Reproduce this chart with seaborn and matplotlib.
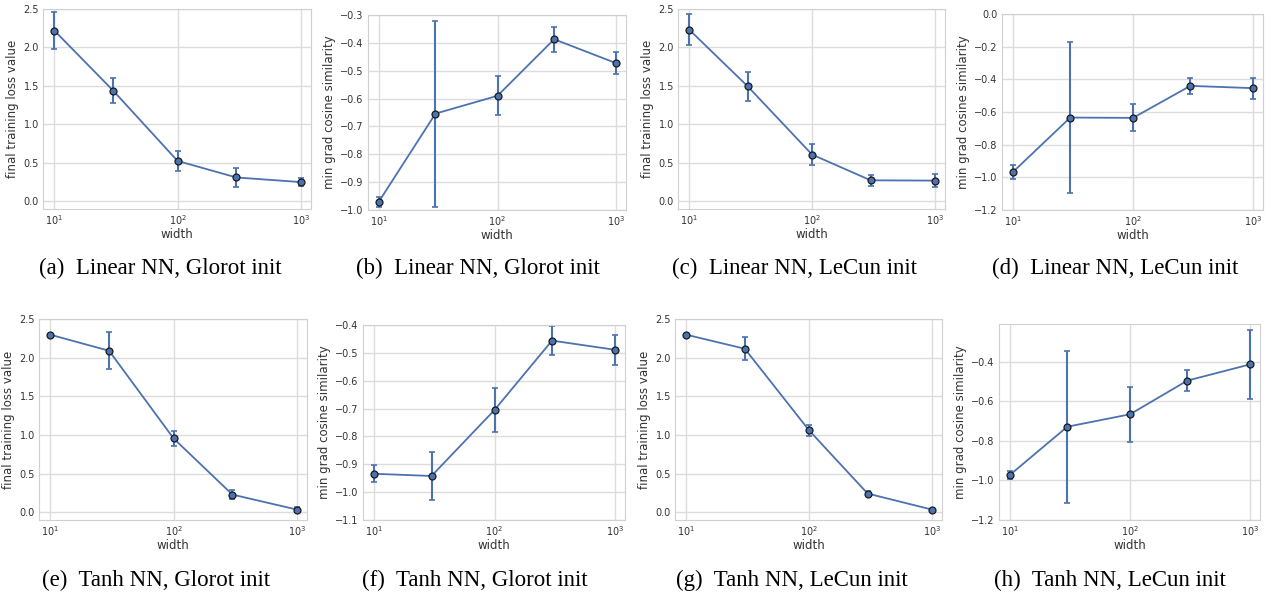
import numpy as np
import pandas as pd
import matplotlib
matplotlib.use("Agg")
import matplotlib.pyplot as plt
import matplotlib.ticker as ticker
import seaborn as sns

sns.set_style("whitegrid", {
    "axes.edgecolor": "#d0d0d0",
    "grid.color": "#dcdcdc",
    "axes.linewidth": 1.0,
    "text.color": ".2",
    "xtick.color": ".2",
    "ytick.color": ".2",
    "axes.labelcolor": ".2",
})
plt.rcParams["font.family"] = ["DejaVu Sans"]

widths = [10, 30, 100, 300, 1000]

loss_lin_glorot = [2.22, 1.44, 0.525, 0.31, 0.25]
loss_lin_glorot_err = [0.245, 0.16, 0.125, 0.125, 0.055]
cos_lin_glorot = [-0.970, -0.654, -0.590, -0.387, -0.473]
cos_lin_glorot_err = [0.018, 0.334, 0.070, 0.045, 0.039]
loss_lin_lecun = [2.231, 1.493, 0.608, 0.273, 0.269]
loss_lin_lecun_err = [0.205, 0.19, 0.14, 0.075, 0.08]
cos_lin_lecun = [-0.967, -0.634, -0.636, -0.440, -0.454]
cos_lin_lecun_err = [0.041, 0.46, 0.082, 0.051, 0.064]
loss_tanh_glorot = [2.297, 2.089, 0.956, 0.229, 0.035]
loss_tanh_glorot_err = [0.01, 0.24, 0.10, 0.055, 0.03]
cos_tanh_glorot = [-0.934, -0.942, -0.705, -0.456, -0.489]
cos_tanh_glorot_err = [0.031, 0.086, 0.079, 0.053, 0.053]
loss_tanh_lecun = [2.297, 2.115, 1.060, 0.242, 0.035]
loss_tanh_lecun_err = [0.01, 0.15, 0.075, 0.035, 0.012]
cos_tanh_lecun = [-0.972, -0.729, -0.666, -0.496, -0.414]
cos_tanh_lecun_err = [0.021, 0.384, 0.138, 0.054, 0.174]

captions = ["(a)  Linear NN, Glorot init", "(b)  Linear NN, Glorot init",
            "(c)  Linear NN, LeCun init", "(d)  Linear NN, LeCun init",
            "(e)  Tanh NN, Glorot init", "(f)  Tanh NN, Glorot init",
            "(g)  Tanh NN, LeCun init", "(h)  Tanh NN, LeCun init"]

loss_label = "final training loss value"
cos_label = "min grad cosine similarity"

FW, FH = 1270, 595
fig = plt.figure(figsize=(12.7, 5.95), dpi=100)

# panel boxes in pixels: left, top, right, bottom
panels = [
    ((43, 9, 311, 209), loss_lin_glorot, loss_lin_glorot_err, loss_label, (-0.1, 2.5), np.arange(0, 2.51, 0.5)),
    ((368, 15, 626, 210), cos_lin_glorot, cos_lin_glorot_err, cos_label, (-1.0, -0.3), np.arange(-1.0, -0.29, 0.1)),
    ((678, 9, 945, 209), loss_lin_lecun, loss_lin_lecun_err, loss_label, (-0.1, 2.5), np.arange(0, 2.51, 0.5)),
    ((1002, 14, 1263, 210), cos_lin_lecun, cos_lin_lecun_err, cos_label, (-1.2, 0.0), np.arange(-1.2, 0.01, 0.2)),
    ((39, 319, 307, 520), loss_tanh_glorot, loss_tanh_glorot_err, loss_label, (-0.1, 2.5), np.arange(0, 2.51, 0.5)),
    ((363, 325, 625, 520), cos_tanh_glorot, cos_tanh_glorot_err, cos_label, (-1.1, -0.4), np.arange(-1.1, -0.39, 0.1)),
    ((675, 319, 942, 520), loss_tanh_lecun, loss_tanh_lecun_err, loss_label, (-0.1, 2.5), np.arange(0, 2.51, 0.5)),
    ((999, 324, 1260, 520), cos_tanh_lecun, cos_tanh_lecun_err, cos_label, (-1.2, -0.21), np.arange(-1.2, -0.39, 0.2)),
]
caption_x = [160, 478, 795, 1115, 156, 475, 792, 1110]

blue = sns.color_palette("deep")[0]


def fmt_y(v, pos):
    s = "%.1f" % v
    if s == "-0.0":
        s = "0.0"
    return s.replace("-", "\u2212")


for i, (box, vals, errs, ylab, ylim, yt) in enumerate(panels):
    l, t, r, b = box
    ax = fig.add_axes([l / FW, 1 - b / FH, (r - l) / FW, (b - t) / FH])
    df = pd.DataFrame({"width": widths, "value": vals})
    ax.errorbar(widths, vals, yerr=errs, fmt="none", ecolor=blue,
                elinewidth=1.5, capsize=2.5, capthick=1.2, zorder=2)
    sns.lineplot(data=df, x="width", y="value", ax=ax, color=blue,
                 linewidth=1.3, marker="o", markersize=5,
                 markerfacecolor=blue, markeredgecolor="#1a1a1a",
                 markeredgewidth=0.9, zorder=3)
    ax.set_xscale("log")
    ax.set_xlim(8.1, 1210)
    ax.set_ylim(*ylim)
    ax.set_yticks(np.round(yt, 2))
    ax.yaxis.set_major_formatter(ticker.FuncFormatter(fmt_y))
    ax.xaxis.set_major_locator(ticker.FixedLocator([10, 100, 1000]))
    ax.xaxis.set_minor_locator(ticker.NullLocator())
    ax.grid(True, which="major", linewidth=1.0)
    ax.tick_params(axis="both", labelsize=7, length=0, pad=3)
    ax.set_xlabel("width", fontsize=8.5, labelpad=1)
    ax.set_ylabel(ylab, fontsize=8.5, labelpad=3)
    cy = 268 if i < 4 else 580
    fig.text(caption_x[i] / FW, 1 - cy / FH, captions[i], ha="center", va="center",
             fontsize=16.5, family=["Liberation Serif", "DejaVu Serif"], color="black")

fig.savefig("out.png", dpi=100)
